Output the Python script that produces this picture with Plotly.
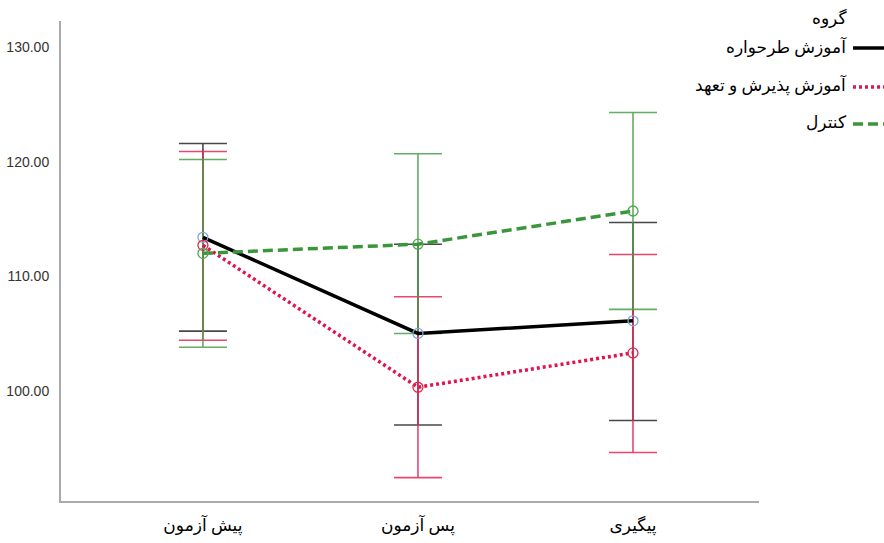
import plotly.graph_objects as go

categories = ["پیش آزمون", "پس آزمون", "پیگیری"]
group_title = "گروه"
series_names = ["آموزش طرحواره", "آموزش پذیرش و تعهد", "کنترل"]

schema_mean = [113.4, 105.0, 106.1]
schema_low = [105.2, 97.0, 97.4]
schema_high = [121.6, 112.8, 114.7]

act_mean = [112.7, 100.3, 103.3]
act_low = [104.4, 92.4, 94.6]
act_high = [120.9, 108.2, 111.9]

control_mean = [112.0, 112.8, 115.7]
control_low = [103.8, 105.0, 107.1]
control_high = [120.2, 120.7, 124.3]

y_ticks = [100, 110, 120, 130]

series = [
    dict(name=series_names[0], mean=schema_mean, low=schema_low, high=schema_high,
         line="#000000", dash="solid", err="rgba(40,40,40,0.85)", mk="#7aa6e0"),
    dict(name=series_names[1], mean=act_mean, low=act_low, high=act_high,
         line="#e3134d", dash="3px,3px", err="rgba(228,40,85,0.85)", mk="#e3264f"),
    dict(name=series_names[2], mean=control_mean, low=control_low, high=control_high,
         line="#3a963a", dash="10px,5px", err="rgba(70,160,70,0.85)", mk="#4fa64f"),
]

xs = list(range(len(categories)))
fig = go.Figure()

for s in series:
    fig.add_trace(go.Scatter(
        x=xs, y=s["mean"], mode="markers",
        marker=dict(size=1, color="rgba(0,0,0,0)"),
        error_y=dict(type="data", symmetric=False,
                     array=[h - m for h, m in zip(s["high"], s["mean"])],
                     arrayminus=[m - l for m, l in zip(s["mean"], s["low"])],
                     color=s["err"], thickness=1.6, width=24),
        showlegend=False, hoverinfo="skip"))

for s in series:
    fig.add_trace(go.Scatter(
        x=xs, y=s["mean"], mode="lines+markers", name=s["name"],
        line=dict(color=s["line"], width=3.5, dash=s["dash"]),
        marker=dict(symbol="circle-open", size=10, color=s["mk"], line=dict(width=1.3)),
        showlegend=False))

L, R, T, B = 61, 125, 21, 42
W, H = 884, 543
pw, ph = W - L - R, H - T - B

def px_x(px):
    return (px - L) / pw

def px_y(py):
    return (H - B - py) / ph

legend_font = dict(family="Times New Roman, Liberation Serif, DejaVu Sans", size=17, color="#000")
fig.add_annotation(x=px_x(849), y=px_y(18), xref="paper", yref="paper", text=group_title,
                   showarrow=False, xanchor="right", yanchor="middle", font=legend_font)
rows_y = [46, 85, 122]
for s, ry in zip(series, rows_y):
    fig.add_annotation(x=px_x(849), y=px_y(ry), xref="paper", yref="paper", text=s["name"],
                       showarrow=False, xanchor="right", yanchor="middle", font=legend_font)
    fig.add_shape(type="line", xref="paper", yref="paper",
                  x0=px_x(853), x1=px_x(900), y0=px_y(ry + 2), y1=px_y(ry + 2),
                  line=dict(color=s["line"], width=3.5, dash=s["dash"]))

fig.update_layout(
    width=W, height=H,
    margin=dict(l=L, r=R, t=T, b=B, pad=0, autoexpand=False),
    paper_bgcolor="white", plot_bgcolor="white",
    showlegend=False,
    xaxis=dict(range=[-0.66, 2.586], tickvals=xs, ticktext=categories, automargin=False,
               showgrid=False, zeroline=False, showline=True, linecolor="#aaaaaa", linewidth=2,
               ticks="", ticklabelstandoff=8,
               tickfont=dict(family="Times New Roman, Liberation Serif, DejaVu Sans", size=17, color="#000")),
    yaxis=dict(range=[90.36, 132.3], tickvals=y_ticks, tickformat=".2f", automargin=False,
               showgrid=False, zeroline=False, showline=True, linecolor="#aaaaaa", linewidth=2,
               ticks="", ticklabelstandoff=7,
               tickfont=dict(family="Arial, Liberation Sans", size=14, color="#333")),
)

fig.write_html("out.html")
